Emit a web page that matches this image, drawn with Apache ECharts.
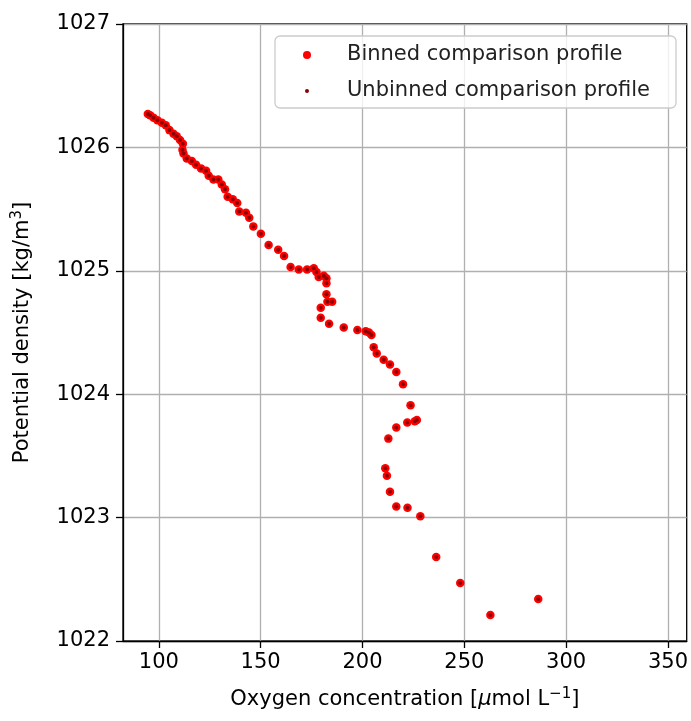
<!DOCTYPE html>
<html>
<head>
<meta charset="utf-8">
<script src="https://cdn.jsdelivr.net/npm/echarts@6/dist/echarts.min.js"></script>
<style>
  html, body { margin: 0; padding: 0; background: #fff; }
  #chart { width: 691px; height: 721px; }
</style>
</head>
<body>
<div id="chart"></div>
<script>
// 氧浓度 (µmol/L) 与位势密度 (kg/m3)
const oxygen = [
  94.6, 95.7, 97.4, 99.3, 101.5, 103.4, 105.2, 107.2, 108.8, 110.4,
  111.8, 111.6, 112.1, 113.7, 116.2, 118.3, 120.7, 123.2, 124.5, 126.8,
  129.2, 130.9, 132.5, 133.8, 136.3, 138.5, 139.5, 142.8, 144.4, 146.4,
  150.1, 153.9, 158.6, 161.5, 164.7, 168.7, 172.8, 176.1, 177.4, 178.5,
  181.0, 182.3, 182.3, 182.3, 182.8, 185.1, 179.5, 179.5, 183.6, 190.8,
  197.5, 201.6, 203.2, 204.4, 205.5, 207.0, 210.4, 213.5, 216.6, 219.9,
  223.6, 226.7, 225.7, 222.0, 216.6, 212.7, 211.2, 212.0, 213.5, 216.6,
  222.1, 228.4, 236.2, 248.0, 286.3, 262.8
];
const density = [
  1026.27, 1026.26, 1026.24, 1026.22, 1026.20, 1026.18, 1026.14, 1026.11, 1026.09, 1026.06,
  1026.03, 1025.98, 1025.95, 1025.91, 1025.89, 1025.86, 1025.83, 1025.81, 1025.77, 1025.74,
  1025.74, 1025.70, 1025.66, 1025.60, 1025.58, 1025.55, 1025.48, 1025.47, 1025.43, 1025.36,
  1025.30, 1025.21, 1025.17, 1025.12, 1025.03, 1025.01, 1025.01, 1025.02, 1024.99, 1024.95,
  1024.96, 1024.94, 1024.90, 1024.81, 1024.75, 1024.75, 1024.70, 1024.62, 1024.57, 1024.54,
  1024.52, 1024.51, 1024.50, 1024.48, 1024.38, 1024.33, 1024.28, 1024.24, 1024.18, 1024.08,
  1023.91, 1023.79, 1023.78, 1023.77, 1023.73, 1023.64, 1023.40, 1023.34, 1023.21, 1023.09,
  1023.08, 1023.01, 1022.68, 1022.47, 1022.34, 1022.21
];
const xTicks = [100, 150, 200, 250, 300, 350];

const points = oxygen.map((x, i) => [x, density[i]]);
const font = "DejaVu Sans";

const option = {
  animation: false,
  backgroundColor: "#fff",
  textStyle: { fontFamily: font },
  grid: {
    left: 123, right: 3, top: 24, bottom: 80,
    show: true, borderColor: "#000", borderWidth: 1.3, backgroundColor: "transparent"
  },
  xAxis: {
    type: "value",
    min: 82.4, max: 359.2,
    name: "Oxygen concentration [{it|μ}mol L{sup|−1}]",
    nameLocation: "middle",
    nameGap: 46,
    nameTextStyle: {
      color: "#000", fontSize: 21, fontFamily: font,
      rich: {
        it: { fontSize: 21, fontStyle: "italic", fontFamily: font, color: "#000" },
        sup: { fontSize: 15, fontFamily: font, color: "#000", padding: [0, 0, 10, 0] }
      }
    },
    axisLine: { lineStyle: { color: "#000", width: 1.3 } },
    axisTick: { show: true, inside: false, length: 7, customValues: xTicks, lineStyle: { color: "#000", width: 1.3 } },
    axisLabel: { customValues: xTicks, color: "#000", fontSize: 21, fontFamily: font, margin: 11 },
    splitLine: { show: true, lineStyle: { color: "#b0b0b0", width: 1.3 } }
  },
  yAxis: {
    type: "value",
    min: 1022, max: 1027, interval: 1,
    name: "Potential density [kg/m{sup|3}]",
    nameLocation: "middle",
    nameGap: 88,
    nameRotate: 90,
    nameTextStyle: {
      color: "#000", fontSize: 21, fontFamily: font,
      rich: {
        sup: { fontSize: 15, fontFamily: font, color: "#000", padding: [0, 0, 10, 0] }
      }
    },
    axisLine: { show: true, lineStyle: { color: "#000", width: 1.3 } },
    axisTick: { show: true, inside: false, length: 7, lineStyle: { color: "#000", width: 1.3 } },
    axisLabel: { color: "#000", fontSize: 21, fontFamily: font, margin: 13, formatter: (v) => String(v) },
    splitLine: { show: true, lineStyle: { color: "#b0b0b0", width: 1.3 } }
  },
  graphic: [{
    type: "rect",
    shape: { x: 275, y: 36, width: 401, height: 72, r: 5 },
    style: { fill: "rgba(255,255,255,0.8)", stroke: "#cccccc", lineWidth: 1.3 },
    z: 50
  }],
  legend: [
    {
      data: ["Binned comparison profile"],
      left: 303, top: 43, padding: 0,
      icon: "circle", itemWidth: 8, itemHeight: 8,
      textStyle: { color: "#222", fontSize: 21, fontFamily: font, lineHeight: 24, padding: [0, 0, 0, 31] },
      z: 60
    },
    {
      data: ["Unbinned comparison profile"],
      left: 305, top: 79, padding: 0,
      icon: "circle", itemWidth: 4, itemHeight: 4,
      textStyle: { color: "#222", fontSize: 21, fontFamily: font, lineHeight: 24, padding: [0, 0, 0, 33] },
      z: 60
    }
  ],
  series: [
    {
      name: "Binned comparison profile",
      type: "scatter",
      data: points,
      symbolSize: 8.5,
      itemStyle: { color: "#ff0000", opacity: 1 }
    },
    {
      name: "Unbinned comparison profile",
      type: "scatter",
      data: points,
      symbolSize: 4,
      itemStyle: { color: "#8b0000", opacity: 1 }
    }
  ]
};

const myChart = echarts.init(document.getElementById("chart"));
myChart.setOption(option);
</script>
</body>
</html>
